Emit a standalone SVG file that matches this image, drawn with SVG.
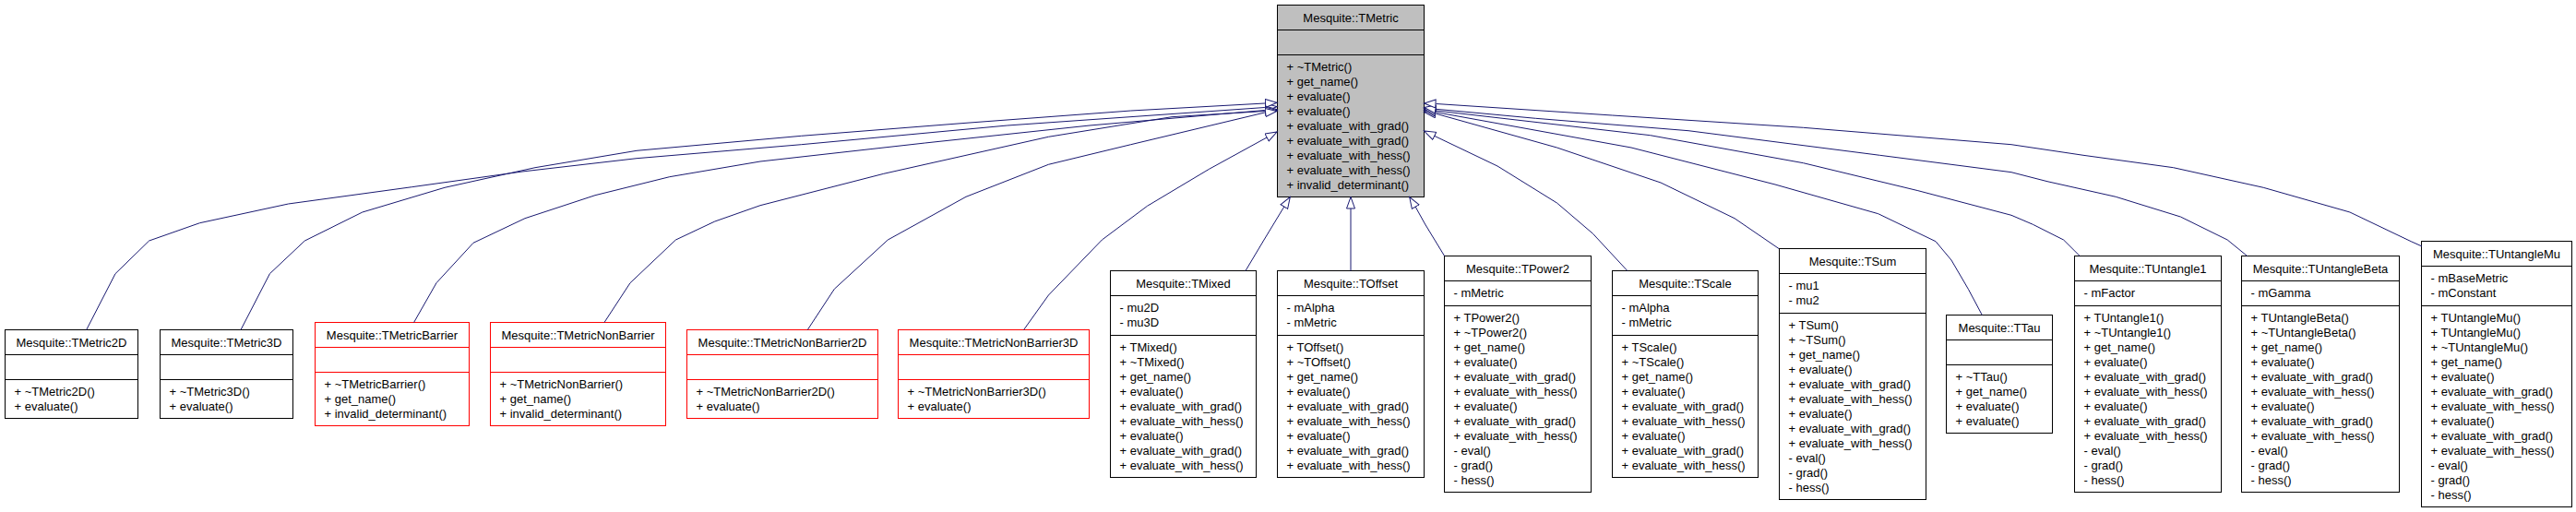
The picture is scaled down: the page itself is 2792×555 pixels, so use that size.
<svg xmlns="http://www.w3.org/2000/svg" width="2792" height="555" viewBox="0 0 2792 555">
<style>
.n{fill:#fff;stroke:#000;stroke-width:1}
.nr{fill:#fff;stroke:#ff0000;stroke-width:1}
.nb{fill:#bfbfbf;stroke:#000;stroke-width:1}
.s{fill:none;stroke:#000;stroke-width:1}
.sr{fill:none;stroke:#ff0000;stroke-width:1}
text{font-family:"Liberation Sans",Arial,Helvetica,sans-serif;font-size:13px;fill:#000}
.t{text-anchor:middle}
.e{fill:none;stroke:#191970;stroke-width:1;marker-end:url(#arr)}
</style>
<defs>
<marker id="arr" markerWidth="16" markerHeight="12" refX="13" refY="5" orient="auto" markerUnits="userSpaceOnUse">
<path d="M0.5,0.5 L13,5 L0.5,9.5 Z" fill="#fff" stroke="#191970" stroke-width="1"/>
</marker>
</defs>
<rect width="2792" height="555" fill="#fff"/>

<g id="TMetric">
<rect class="nb" x="1384.5" y="5.5" width="159" height="208"/>
<path class="s" d="M1384.5,32.5H1543.5M1384.5,59.5H1543.5"/>
<text class="t" x="1464" y="23.5">Mesquite::TMetric</text>
<text x="1394.5" y="76.5"><tspan x="1394.5">+ ~TMetric()</tspan><tspan x="1394.5" dy="16">+ get_name()</tspan><tspan x="1394.5" dy="16">+ evaluate()</tspan><tspan x="1394.5" dy="16">+ evaluate()</tspan><tspan x="1394.5" dy="16">+ evaluate_with_grad()</tspan><tspan x="1394.5" dy="16">+ evaluate_with_grad()</tspan><tspan x="1394.5" dy="16">+ evaluate_with_hess()</tspan><tspan x="1394.5" dy="16">+ evaluate_with_hess()</tspan><tspan x="1394.5" dy="16">+ invalid_determinant()</tspan></text>
</g>

<g id="TMetric2D">
<rect class="n" x="5.5" y="357.5" width="144" height="96"/>
<path class="s" d="M5.5,384.5H149.5M5.5,411.5H149.5"/>
<text class="t" x="77.5" y="375.5">Mesquite::TMetric2D</text>
<text x="15.5" y="428.5"><tspan x="15.5">+ ~TMetric2D()</tspan><tspan x="15.5" dy="16">+ evaluate()</tspan></text>
</g>

<g id="TMetric3D">
<rect class="n" x="173.5" y="357.5" width="144" height="96"/>
<path class="s" d="M173.5,384.5H317.5M173.5,411.5H317.5"/>
<text class="t" x="245.5" y="375.5">Mesquite::TMetric3D</text>
<text x="183.5" y="428.5"><tspan x="183.5">+ ~TMetric3D()</tspan><tspan x="183.5" dy="16">+ evaluate()</tspan></text>
</g>

<g id="TMetricBarrier">
<rect class="nr" x="341.5" y="349.5" width="167" height="112"/>
<path class="sr" d="M341.5,376.5H508.5M341.5,403.5H508.5"/>
<text class="t" x="425" y="367.5">Mesquite::TMetricBarrier</text>
<text x="351.5" y="420.5"><tspan x="351.5">+ ~TMetricBarrier()</tspan><tspan x="351.5" dy="16">+ get_name()</tspan><tspan x="351.5" dy="16">+ invalid_determinant()</tspan></text>
</g>

<g id="TMetricNonBarrier">
<rect class="nr" x="531.5" y="349.5" width="190" height="112"/>
<path class="sr" d="M531.5,376.5H721.5M531.5,403.5H721.5"/>
<text class="t" x="626.5" y="367.5">Mesquite::TMetricNonBarrier</text>
<text x="541.5" y="420.5"><tspan x="541.5">+ ~TMetricNonBarrier()</tspan><tspan x="541.5" dy="16">+ get_name()</tspan><tspan x="541.5" dy="16">+ invalid_determinant()</tspan></text>
</g>

<g id="TMetricNonBarrier2D">
<rect class="nr" x="744.5" y="357.5" width="207" height="96"/>
<path class="sr" d="M744.5,384.5H951.5M744.5,411.5H951.5"/>
<text class="t" x="848" y="375.5">Mesquite::TMetricNonBarrier2D</text>
<text x="754.5" y="428.5"><tspan x="754.5">+ ~TMetricNonBarrier2D()</tspan><tspan x="754.5" dy="16">+ evaluate()</tspan></text>
</g>

<g id="TMetricNonBarrier3D">
<rect class="nr" x="973.5" y="357.5" width="207" height="96"/>
<path class="sr" d="M973.5,384.5H1180.5M973.5,411.5H1180.5"/>
<text class="t" x="1077" y="375.5">Mesquite::TMetricNonBarrier3D</text>
<text x="983.5" y="428.5"><tspan x="983.5">+ ~TMetricNonBarrier3D()</tspan><tspan x="983.5" dy="16">+ evaluate()</tspan></text>
</g>

<g id="TMixed">
<rect class="n" x="1203.5" y="293.5" width="158" height="224"/>
<path class="s" d="M1203.5,320.5H1361.5M1203.5,363.5H1361.5"/>
<text class="t" x="1282.5" y="311.5">Mesquite::TMixed</text>
<text x="1213.5" y="337.5"><tspan x="1213.5">- mu2D</tspan><tspan x="1213.5" dy="16">- mu3D</tspan></text>
<text x="1213.5" y="380.5"><tspan x="1213.5">+ TMixed()</tspan><tspan x="1213.5" dy="16">+ ~TMixed()</tspan><tspan x="1213.5" dy="16">+ get_name()</tspan><tspan x="1213.5" dy="16">+ evaluate()</tspan><tspan x="1213.5" dy="16">+ evaluate_with_grad()</tspan><tspan x="1213.5" dy="16">+ evaluate_with_hess()</tspan><tspan x="1213.5" dy="16">+ evaluate()</tspan><tspan x="1213.5" dy="16">+ evaluate_with_grad()</tspan><tspan x="1213.5" dy="16">+ evaluate_with_hess()</tspan></text>
</g>

<g id="TOffset">
<rect class="n" x="1384.5" y="293.5" width="159" height="224"/>
<path class="s" d="M1384.5,320.5H1543.5M1384.5,363.5H1543.5"/>
<text class="t" x="1464" y="311.5">Mesquite::TOffset</text>
<text x="1394.5" y="337.5"><tspan x="1394.5">- mAlpha</tspan><tspan x="1394.5" dy="16">- mMetric</tspan></text>
<text x="1394.5" y="380.5"><tspan x="1394.5">+ TOffset()</tspan><tspan x="1394.5" dy="16">+ ~TOffset()</tspan><tspan x="1394.5" dy="16">+ get_name()</tspan><tspan x="1394.5" dy="16">+ evaluate()</tspan><tspan x="1394.5" dy="16">+ evaluate_with_grad()</tspan><tspan x="1394.5" dy="16">+ evaluate_with_hess()</tspan><tspan x="1394.5" dy="16">+ evaluate()</tspan><tspan x="1394.5" dy="16">+ evaluate_with_grad()</tspan><tspan x="1394.5" dy="16">+ evaluate_with_hess()</tspan></text>
</g>

<g id="TPower2">
<rect class="n" x="1565.5" y="277.5" width="159" height="256"/>
<path class="s" d="M1565.5,304.5H1724.5M1565.5,331.5H1724.5"/>
<text class="t" x="1645" y="295.5">Mesquite::TPower2</text>
<text x="1575.5" y="321.5">- mMetric</text>
<text x="1575.5" y="348.5"><tspan x="1575.5">+ TPower2()</tspan><tspan x="1575.5" dy="16">+ ~TPower2()</tspan><tspan x="1575.5" dy="16">+ get_name()</tspan><tspan x="1575.5" dy="16">+ evaluate()</tspan><tspan x="1575.5" dy="16">+ evaluate_with_grad()</tspan><tspan x="1575.5" dy="16">+ evaluate_with_hess()</tspan><tspan x="1575.5" dy="16">+ evaluate()</tspan><tspan x="1575.5" dy="16">+ evaluate_with_grad()</tspan><tspan x="1575.5" dy="16">+ evaluate_with_hess()</tspan><tspan x="1575.5" dy="16">- eval()</tspan><tspan x="1575.5" dy="16">- grad()</tspan><tspan x="1575.5" dy="16">- hess()</tspan></text>
</g>

<g id="TScale">
<rect class="n" x="1747.5" y="293.5" width="158" height="224"/>
<path class="s" d="M1747.5,320.5H1905.5M1747.5,363.5H1905.5"/>
<text class="t" x="1826.5" y="311.5">Mesquite::TScale</text>
<text x="1757.5" y="337.5"><tspan x="1757.5">- mAlpha</tspan><tspan x="1757.5" dy="16">- mMetric</tspan></text>
<text x="1757.5" y="380.5"><tspan x="1757.5">+ TScale()</tspan><tspan x="1757.5" dy="16">+ ~TScale()</tspan><tspan x="1757.5" dy="16">+ get_name()</tspan><tspan x="1757.5" dy="16">+ evaluate()</tspan><tspan x="1757.5" dy="16">+ evaluate_with_grad()</tspan><tspan x="1757.5" dy="16">+ evaluate_with_hess()</tspan><tspan x="1757.5" dy="16">+ evaluate()</tspan><tspan x="1757.5" dy="16">+ evaluate_with_grad()</tspan><tspan x="1757.5" dy="16">+ evaluate_with_hess()</tspan></text>
</g>

<g id="TSum">
<rect class="n" x="1928.5" y="269.5" width="159" height="272"/>
<path class="s" d="M1928.5,296.5H2087.5M1928.5,339.5H2087.5"/>
<text class="t" x="2008" y="287.5">Mesquite::TSum</text>
<text x="1938.5" y="313.5"><tspan x="1938.5">- mu1</tspan><tspan x="1938.5" dy="16">- mu2</tspan></text>
<text x="1938.5" y="356.5"><tspan x="1938.5">+ TSum()</tspan><tspan x="1938.5" dy="16">+ ~TSum()</tspan><tspan x="1938.5" dy="16">+ get_name()</tspan><tspan x="1938.5" dy="16">+ evaluate()</tspan><tspan x="1938.5" dy="16">+ evaluate_with_grad()</tspan><tspan x="1938.5" dy="16">+ evaluate_with_hess()</tspan><tspan x="1938.5" dy="16">+ evaluate()</tspan><tspan x="1938.5" dy="16">+ evaluate_with_grad()</tspan><tspan x="1938.5" dy="16">+ evaluate_with_hess()</tspan><tspan x="1938.5" dy="16">- eval()</tspan><tspan x="1938.5" dy="16">- grad()</tspan><tspan x="1938.5" dy="16">- hess()</tspan></text>
</g>

<g id="TTau">
<rect class="n" x="2109.5" y="341.5" width="115" height="128"/>
<path class="s" d="M2109.5,368.5H2224.5M2109.5,395.5H2224.5"/>
<text class="t" x="2167" y="359.5">Mesquite::TTau</text>
<text x="2119.5" y="412.5"><tspan x="2119.5">+ ~TTau()</tspan><tspan x="2119.5" dy="16">+ get_name()</tspan><tspan x="2119.5" dy="16">+ evaluate()</tspan><tspan x="2119.5" dy="16">+ evaluate()</tspan></text>
</g>

<g id="TUntangle1">
<rect class="n" x="2248.5" y="277.5" width="159" height="256"/>
<path class="s" d="M2248.5,304.5H2407.5M2248.5,331.5H2407.5"/>
<text class="t" x="2328" y="295.5">Mesquite::TUntangle1</text>
<text x="2258.5" y="321.5">- mFactor</text>
<text x="2258.5" y="348.5"><tspan x="2258.5">+ TUntangle1()</tspan><tspan x="2258.5" dy="16">+ ~TUntangle1()</tspan><tspan x="2258.5" dy="16">+ get_name()</tspan><tspan x="2258.5" dy="16">+ evaluate()</tspan><tspan x="2258.5" dy="16">+ evaluate_with_grad()</tspan><tspan x="2258.5" dy="16">+ evaluate_with_hess()</tspan><tspan x="2258.5" dy="16">+ evaluate()</tspan><tspan x="2258.5" dy="16">+ evaluate_with_grad()</tspan><tspan x="2258.5" dy="16">+ evaluate_with_hess()</tspan><tspan x="2258.5" dy="16">- eval()</tspan><tspan x="2258.5" dy="16">- grad()</tspan><tspan x="2258.5" dy="16">- hess()</tspan></text>
</g>

<g id="TUntangleBeta">
<rect class="n" x="2429.5" y="277.5" width="171" height="256"/>
<path class="s" d="M2429.5,304.5H2600.5M2429.5,331.5H2600.5"/>
<text class="t" x="2515" y="295.5">Mesquite::TUntangleBeta</text>
<text x="2439.5" y="321.5">- mGamma</text>
<text x="2439.5" y="348.5"><tspan x="2439.5">+ TUntangleBeta()</tspan><tspan x="2439.5" dy="16">+ ~TUntangleBeta()</tspan><tspan x="2439.5" dy="16">+ get_name()</tspan><tspan x="2439.5" dy="16">+ evaluate()</tspan><tspan x="2439.5" dy="16">+ evaluate_with_grad()</tspan><tspan x="2439.5" dy="16">+ evaluate_with_hess()</tspan><tspan x="2439.5" dy="16">+ evaluate()</tspan><tspan x="2439.5" dy="16">+ evaluate_with_grad()</tspan><tspan x="2439.5" dy="16">+ evaluate_with_hess()</tspan><tspan x="2439.5" dy="16">- eval()</tspan><tspan x="2439.5" dy="16">- grad()</tspan><tspan x="2439.5" dy="16">- hess()</tspan></text>
</g>

<g id="TUntangleMu">
<rect class="n" x="2624.5" y="261.5" width="163" height="288"/>
<path class="s" d="M2624.5,288.5H2787.5M2624.5,331.5H2787.5"/>
<text class="t" x="2706" y="279.5">Mesquite::TUntangleMu</text>
<text x="2634.5" y="305.5"><tspan x="2634.5">- mBaseMetric</tspan><tspan x="2634.5" dy="16">- mConstant</tspan></text>
<text x="2634.5" y="348.5"><tspan x="2634.5">+ TUntangleMu()</tspan><tspan x="2634.5" dy="16">+ TUntangleMu()</tspan><tspan x="2634.5" dy="16">+ ~TUntangleMu()</tspan><tspan x="2634.5" dy="16">+ get_name()</tspan><tspan x="2634.5" dy="16">+ evaluate()</tspan><tspan x="2634.5" dy="16">+ evaluate_with_grad()</tspan><tspan x="2634.5" dy="16">+ evaluate_with_hess()</tspan><tspan x="2634.5" dy="16">+ evaluate()</tspan><tspan x="2634.5" dy="16">+ evaluate_with_grad()</tspan><tspan x="2634.5" dy="16">+ evaluate_with_hess()</tspan><tspan x="2634.5" dy="16">- eval()</tspan><tspan x="2634.5" dy="16">- grad()</tspan><tspan x="2634.5" dy="16">- hess()</tspan></text>
</g>

<g id="connectors">
<path class="e" d="M93.7,357.5 L125,296.7 L161.6,261 L216.5,241.7 L312.5,221 L446.4,202.7 L566,186 L690,171.7 L868.6,156.7 L1091.8,136 L1370.8,116.5 L1384,115.5"/>
<path class="e" d="M261,357.5 L292.4,296.7 L330.3,261 L392.8,230 L482,203.3 L580,181.7 L690,163.3 L868.6,147.3 L1047,133.3 L1225.7,120 L1370.8,112 L1384,111.3"/>
<path class="e" d="M448.6,349.5 L473,306.7 L513,263.3 L569,236.7 L645,211.7 L725.7,191.7 L824,175 L1002.5,155 L1181,136 L1370.8,119.5 L1384,118.5"/>
<path class="e" d="M655,349.5 L683,306.7 L732.4,260 L774.8,240 L824,222.7 L957.8,188.3 L1136.4,148.3 L1270,126.7 L1370.8,120.5 L1384,119.5"/>
<path class="e" d="M875.3,357.5 L904.3,313.3 L962.3,260 L1047,213.3 L1136.4,178.3 L1225.7,156.7 L1370.8,122 L1384,120.5"/>
<path class="e" d="M1109.6,357.5 L1136.4,320 L1194.4,260 L1243.5,223.3 L1310.5,183.3 L1384,143"/>
<path class="e" d="M1350,293.5 L1370,260 L1390,227 L1398.3,213.5"/>
<path class="e" d="M1464,293.5 L1464,213.5"/>
<path class="e" d="M1565.6,277.5 L1544.6,243 L1533.5,223 L1527.7,213.5"/>
<path class="e" d="M1763.8,293.5 L1726.5,253.3 L1687.5,220 L1623,180 L1543.5,142"/>
<path class="e" d="M1928,269.5 L1880,236.7 L1800,198 L1687.5,160 L1556.6,123.3 L1543.5,121.5"/>
<path class="e" d="M2148.3,341.5 L2133.3,313.3 L2115,282 L2098,261.7 L2035.7,231.7 L1924,200 L1768,160 L1556.6,121.7 L1543.5,119.5"/>
<path class="e" d="M2254.2,277.5 L2236.6,260 L2203.4,243.3 L2180,233.3 L2078.9,206.7 L1954.5,176.7 L1788.7,146.7 L1556.6,120 L1543.5,118"/>
<path class="e" d="M2435.6,277.5 L2414.2,260 L2363.4,235 L2293.2,213.3 L2219,196.7 L2180,186.7 L2037.4,168.3 L1830,141.7 L1664.4,128.3 L1556.6,118.3 L1543.5,116.5"/>
<path class="e" d="M2625,267 L2613.2,261.7 L2546.9,230 L2453.2,203.3 L2355.6,181.7 L2258,168.3 L2180,156.7 L1954.5,138.3 L1747.3,125 L1556.6,112.5 L1543.5,112"/>
</g>
</svg>
